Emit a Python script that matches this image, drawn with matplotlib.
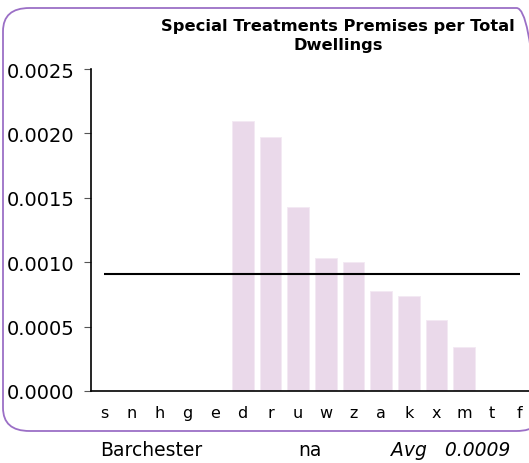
import numpy as np
import matplotlib.pyplot as plt
from matplotlib.patches import FancyBboxPatch

# Werte
categories = ['s', 'n', 'h', 'g', 'e', 'd', 'r', 'u', 'w', 'z', 'a', 'k', 'x', 'm', 't', 'f']
values = [0, 0, 0, 0, 0, 0.00210, 0.00197, 0.00143, 0.00103, 0.00100,
          0.00078, 0.00074, 0.00055, 0.00034, 0, 0]
avg = 0.00091
yticks = [0.0, 0.0005, 0.0010, 0.0015, 0.0020, 0.0025]

fig = plt.figure(figsize=(5.29, 4.64), dpi=100)

# abgerundeter Rahmen
box = FancyBboxPatch((3 / 529, (464 - 432) / 464), 540 / 529, (432 - 9) / 464,
                     boxstyle='round,pad=0,rounding_size=0.05',
                     transform=fig.transFigure, fill=False,
                     edgecolor='#9b6fc6', linewidth=1.3)
fig.add_artist(box)

ax = fig.add_axes([91 / 529, (464 - 392) / 464, (529 - 91) / 529, (392 - 70) / 464])
x = np.arange(len(categories))
ax.bar(x, values, width=0.78, color='#ead9ea', edgecolor='#f3e9f3', linewidth=0.6)
ax.hlines(avg, 0, len(categories) - 1, color='black', linewidth=1.5)

ax.set_xlim(-0.48, 15.34)
ax.set_ylim(0, 0.0025)
ax.set_yticks(yticks)
ax.set_yticklabels(['%.4f' % v for v in yticks], fontsize=14)
ax.set_xticks(x)
ax.set_xticklabels(categories, fontsize=11.5)
ax.tick_params(axis='y', length=5, color='#555555', pad=7)
ax.tick_params(axis='x', length=0, pad=10)
for s in ['top', 'right']:
    ax.spines[s].set_visible(False)
ax.spines['left'].set_linewidth(1.2)
ax.spines['bottom'].set_linewidth(1.2)

fig.text(338 / 529, 1 - 36 / 464, 'Special Treatments Premises per Total\nDwellings',
         ha='center', va='center', fontsize=11.7, fontweight='bold', linespacing=1.3)

fig.text(100 / 529, 1 - 451 / 464, 'Barchester', ha='left', va='center', fontsize=13.5)
fig.text(310 / 529, 1 - 451 / 464, 'na', ha='center', va='center', fontsize=13.5)
fig.text(510 / 529, 1 - 451 / 464, 'Avg   0.0009', ha='right', va='center',
         fontsize=13.5, style='italic')

fig.savefig('out.png', dpi=100)
